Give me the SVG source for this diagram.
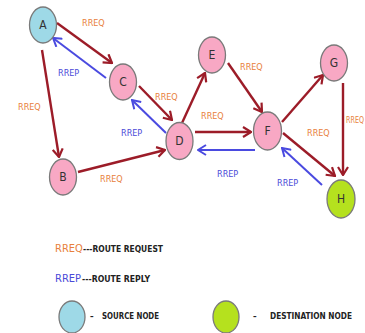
<svg xmlns="http://www.w3.org/2000/svg" width="365" height="333" viewBox="0 0 365 333">
<style>
.node ellipse{stroke:#7a7a7a;stroke-width:1.3}
.pink{fill:#f8a8c4}
.src{fill:#9ed9e7}
.dst{fill:#b5e11e}
.nl{font-family:"DejaVu Sans Condensed","DejaVu Sans",sans-serif;font-size:12px;fill:#333;text-anchor:middle}
.req{stroke:#9c1c28;stroke-width:2.4;fill:none}
.rep{stroke:#4a4ae0;stroke-width:2;fill:none}
.lq{font-family:"DejaVu Sans Condensed","DejaVu Sans",sans-serif;font-size:9px;fill:#e8803c}
.lp{font-family:"DejaVu Sans Condensed","DejaVu Sans",sans-serif;font-size:9px;fill:#4a4ad8}
.lg{font-family:"DejaVu Sans Condensed","DejaVu Sans",sans-serif;font-size:8px;font-weight:bold;fill:#222}
</style>
<defs>
<marker id="ar" viewBox="0 0 10 12" refX="9" refY="6" markerWidth="10" markerHeight="12" markerUnits="userSpaceOnUse" orient="auto">
<path d="M1,1 L9,6 L1,11" fill="none" stroke="#9c1c28" stroke-width="2.2"/>
</marker>
<marker id="ab" viewBox="0 0 10 12" refX="9" refY="6" markerWidth="10" markerHeight="12" markerUnits="userSpaceOnUse" orient="auto">
<path d="M1,1 L9,6 L1,11" fill="none" stroke="#4a4ae0" stroke-width="2"/>
</marker>
</defs>
<rect width="365" height="333" fill="#fff"/>
<g id="connectors">
<line class="req" x1="57" y1="23" x2="112" y2="63" marker-end="url(#ar)"/>
<line class="req" x1="42" y1="50" x2="59" y2="157" marker-end="url(#ar)"/>
<line class="req" x1="139" y1="86" x2="172" y2="120" marker-end="url(#ar)"/>
<line class="req" x1="78" y1="172" x2="165" y2="150" marker-end="url(#ar)"/>
<line class="req" x1="182" y1="123" x2="205" y2="73" marker-end="url(#ar)"/>
<line class="req" x1="228" y1="63" x2="262" y2="112" marker-end="url(#ar)"/>
<line class="req" x1="195" y1="132" x2="251" y2="132" marker-end="url(#ar)"/>
<line class="req" x1="282" y1="122" x2="323" y2="75" marker-end="url(#ar)"/>
<line class="req" x1="283" y1="133" x2="335" y2="176" marker-end="url(#ar)"/>
<line class="req" x1="343" y1="83" x2="343" y2="175" marker-end="url(#ar)"/>
<line class="rep" x1="106" y1="78" x2="53" y2="38" marker-end="url(#ab)"/>
<line class="rep" x1="166" y1="133" x2="132" y2="100" marker-end="url(#ab)"/>
<line class="rep" x1="255" y1="150" x2="198" y2="150" marker-end="url(#ab)"/>
<line class="rep" x1="322" y1="185" x2="282" y2="148" marker-end="url(#ab)"/>
</g>
<g id="labels">
<text class="lq" x="82" y="26">RREQ</text>
<text class="lp" x="58" y="76">RREP</text>
<text class="lq" x="18" y="110">RREQ</text>
<text class="lq" x="155" y="100">RREQ</text>
<text class="lp" x="121" y="136">RREP</text>
<text class="lq" x="100" y="182">RREQ</text>
<text class="lq" x="240" y="70">RREQ</text>
<text class="lq" x="201" y="119">RREQ</text>
<text class="lp" x="217" y="177">RREP</text>
<text class="lq" x="307" y="136">RREQ</text>
<text class="lp" x="277" y="186">RREP</text>
<text class="lq" x="346" y="123" style="font-size:8px" textLength="18" lengthAdjust="spacingAndGlyphs">RREQ</text>
</g>
<g id="node-A" class="node"><ellipse class="src" cx="43" cy="25" rx="13.5" ry="18"/><text class="nl" x="43" y="29">A</text></g>
<g id="node-C" class="node"><ellipse class="pink" cx="123" cy="82" rx="13.5" ry="18"/><text class="nl" x="123" y="86">C</text></g>
<g id="node-B" class="node"><ellipse class="pink" cx="63" cy="177" rx="13.5" ry="18"/><text class="nl" x="63" y="181">B</text></g>
<g id="node-D" class="node"><ellipse class="pink" cx="179.5" cy="141" rx="13.5" ry="18.5"/><text class="nl" x="179.5" y="145">D</text></g>
<g id="node-E" class="node"><ellipse class="pink" cx="212" cy="55" rx="13.5" ry="18"/><text class="nl" x="212" y="59">E</text></g>
<g id="node-F" class="node"><ellipse class="pink" cx="267.5" cy="131" rx="14" ry="19"/><text class="nl" x="267.5" y="135">F</text></g>
<g id="node-G" class="node"><ellipse class="pink" cx="334" cy="63" rx="13.5" ry="18"/><text class="nl" x="334" y="67">G</text></g>
<g id="node-H" class="node"><ellipse class="dst" cx="341" cy="199" rx="14" ry="19"/><text class="nl" x="341" y="203">H</text></g>
<g id="legend">
<text x="55" y="252" style="font-family:'DejaVu Sans Condensed','DejaVu Sans',sans-serif;font-size:11px;fill:#e8803c">RREQ</text>
<text class="lg" x="83" y="252" textLength="80" lengthAdjust="spacingAndGlyphs">---ROUTE REQUEST</text>
<text x="55" y="282" style="font-family:'DejaVu Sans Condensed','DejaVu Sans',sans-serif;font-size:11px;fill:#4a4ad8">RREP</text>
<text class="lg" x="82" y="282" textLength="68" lengthAdjust="spacingAndGlyphs">---ROUTE REPLY</text>
<ellipse cx="72" cy="317" rx="13" ry="16" fill="#9ed9e7" stroke="#7a7a7a" stroke-width="1.3"/>
<text class="lg" x="90" y="319">–</text>
<text class="lg" x="102" y="319" textLength="57" lengthAdjust="spacingAndGlyphs">SOURCE NODE</text>
<ellipse cx="226" cy="317" rx="13" ry="16" fill="#b5e11e" stroke="#7a7a7a" stroke-width="1.3"/>
<text class="lg" x="253" y="319">–</text>
<text class="lg" x="270" y="319" textLength="82" lengthAdjust="spacingAndGlyphs">DESTINATION NODE</text>
</g>
</svg>
